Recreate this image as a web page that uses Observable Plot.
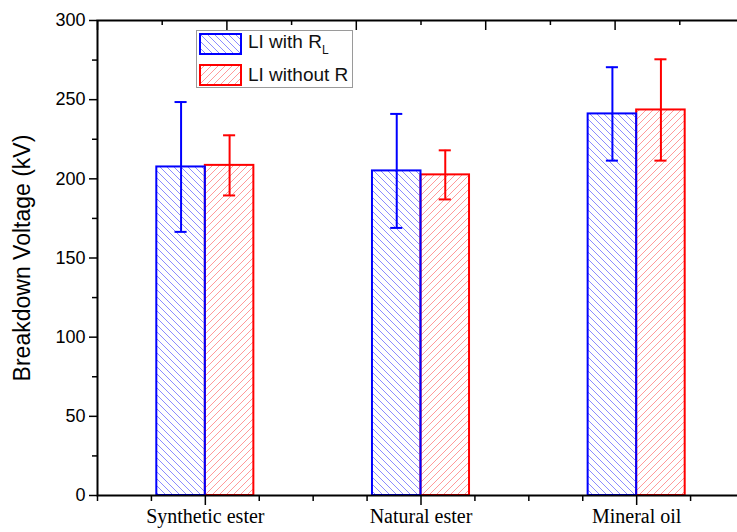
<!DOCTYPE html>
<html>
<head>
<meta charset="utf-8">
<script src="https://cdn.jsdelivr.net/npm/d3@7"></script>
<script src="https://cdn.jsdelivr.net/npm/@observablehq/plot@0.6"></script>
<style>
  html, body { margin: 0; padding: 0; background: #fff; overflow: hidden; }
  #wrap { position: relative; width: 737px; height: 532px; overflow: hidden; }
  #chart svg { max-width: none !important; }
  #legend {
    position: absolute; left: 196px; top: 30px; width: 157px; height: 58px;
    border: 1px solid #9a9a9a; background: #fff; box-sizing: border-box;
    font-family: "Liberation Sans", Arial, sans-serif; font-size: 19px; color: #111;
  }
  .row { position: absolute; left: 2px; height: 22px; display: flex; align-items: center; }
  .row svg { display: block; margin-right: 6px; }
  .row sub { font-size: 12px; vertical-align: -6px; }
</style>
</head>
<body>
<svg width="0" height="0" style="position:absolute">
  <defs>
    <pattern id="hatchBlue" patternUnits="userSpaceOnUse" width="7" height="7">
      <path d="M0,0 L7,7 M-2,5 L2,9 M5,-2 L9,2" stroke="#8c8cff" stroke-width="1"/>
    </pattern>
    <pattern id="hatchRed" patternUnits="userSpaceOnUse" width="7" height="7">
      <path d="M0,7 L7,0 M-2,2 L2,-2 M5,9 L9,5" stroke="#ff9a9a" stroke-width="1"/>
    </pattern>
  </defs>
</svg>
<div id="wrap">
  <div id="chart"></div>
  <div id="legend">
    <div class="row" style="top:2px">
      <svg width="43" height="22"><rect x="1" y="1" width="41" height="20" fill="url(#hatchBlue)" stroke="#0000ff" stroke-width="2"/></svg>
      <span>LI with R<sub>L</sub></span>
    </div>
    <div class="row" style="top:33px">
      <svg width="43" height="22"><rect x="1" y="1" width="41" height="20" fill="url(#hatchRed)" stroke="#ff0000" stroke-width="2"/></svg>
      <span>LI without R</span>
    </div>
  </div>
</div>
<script>
// Breakdown voltage of three insulating liquids under lightning impulse
const categories = ["Synthetic ester", "Natural ester", "Mineral oil"];
const withRL = [207.5, 205, 241];        // LI with R_L (kV)
const withRLErr = [41, 36, 29.5];
const withoutR = [208.5, 202.5, 243.5];  // LI without R (kV)
const withoutRErr = [19, 15.5, 32];

const yMajor = [0, 50, 100, 150, 200, 250, 300];
const yMinor = [25, 75, 125, 175, 225, 275];
const xMinor = [0.5, 0.75, 1.25, 1.5, 1.75, 2.25, 2.5, 2.75, 3.25, 3.5];
const topMajor = [0.5, 1.1, 1.7, 2.3, 2.9, 3.5];
const topMinor = [0.8, 1.4, 2.0, 2.6, 3.2];

const barW = 0.225;  // bar width in category units
const capW = 0.028;  // half-width of error caps

const rows = [];
categories.forEach((c, i) => {
  rows.push({cat: c, series: "with", value: withRL[i], err: withRLErr[i],
             x1: i + 1 - barW, x2: i + 1, xc: i + 1 - barW / 2});
  rows.push({cat: c, series: "without", value: withoutR[i], err: withoutRErr[i],
             x1: i + 1, x2: i + 1 + barW, xc: i + 1 + barW / 2});
});
const blue = rows.filter(d => d.series === "with");
const red = rows.filter(d => d.series === "without");

function bars(data, fill, stroke) {
  return [
    Plot.rectY(data, {x1: "x1", x2: "x2", y1: 0, y2: "value", fill, stroke, strokeWidth: 2}),
    Plot.ruleX(data, {x: "xc", y1: d => d.value - d.err, y2: d => d.value + d.err, stroke, strokeWidth: 2}),
    Plot.ruleY(data, {y: d => d.value + d.err, x1: d => d.xc - capW, x2: d => d.xc + capW, stroke, strokeWidth: 2}),
    Plot.ruleY(data, {y: d => d.value - d.err, x1: d => d.xc - capW, x2: d => d.xc + capW, stroke, strokeWidth: 2})
  ];
}

const innerH = 532 - 20 - 37;

const chart = Plot.plot({
  width: 745,
  height: 532,
  marginLeft: 97,
  marginRight: 1,
  marginTop: 20,
  marginBottom: 37,
  x: {domain: [0.5, 3.5]},
  y: {domain: [0, 300]},
  style: {fontFamily: "'Liberation Sans', Arial, sans-serif", color: "black", background: "white"},
  marks: [
    ...bars(red, "url(#hatchRed)", "#ff0000"),
    ...bars(blue, "url(#hatchBlue)", "#0000ff"),
    Plot.frame({stroke: "black", strokeWidth: 2}),
    Plot.axisY({ticks: yMajor, tickSize: 8, tickPadding: 4, fontSize: 18, strokeWidth: 1.5, label: null}),
    Plot.axisY({ticks: [], tickFormat: () => "", fontSize: 23,
                label: "Breakdown Voltage (kV)", labelAnchor: "center", labelOffset: 84, labelArrow: "none"}),
    Plot.axisY({ticks: yMinor, tickSize: 5, tickFormat: () => "", strokeWidth: 1.5, label: null}),
    Plot.axisX({ticks: [1, 2, 3], tickSize: 10, tickPadding: 3, strokeWidth: 1.5,
                tickFormat: d => categories[d - 1], fontSize: 20,
                fontFamily: "'Liberation Serif', 'Times New Roman', serif", label: null}),
    Plot.axisX({ticks: xMinor, tickSize: 6, tickFormat: () => "", strokeWidth: 1.5, label: null}),
    Plot.tickX(topMajor, {x: d => d, insetBottom: innerH - 10, stroke: "black", strokeWidth: 1.5}),
    Plot.tickX(topMinor, {x: d => d, insetBottom: innerH - 5, stroke: "black", strokeWidth: 1.5})
  ]
});
document.getElementById("chart").appendChild(chart);
</script>
</body>
</html>
